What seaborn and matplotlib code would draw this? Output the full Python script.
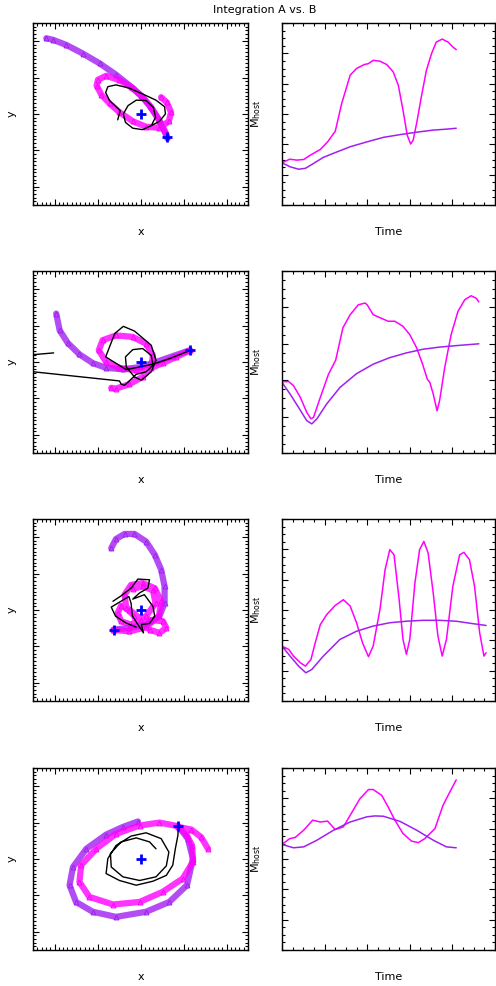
import numpy as np
import pandas as pd
import matplotlib
matplotlib.use("Agg")
import matplotlib.pyplot as plt
import seaborn as sns
from matplotlib.ticker import MultipleLocator

# colours
PURPLE = "#A020F0"
MAGENTA = "#FF00FF"
BLUE = "#0000FF"

# -----------------------------
# Orbit data (x, y) for the left panels
# -----------------------------
orbit_a_1 = [(0.62, -0.64), (0.44, -0.18), (0.21, 0.23), (0.02, 0.50), (-0.22, 0.75),
             (-0.57, 1.08), (-0.95, 1.39), (-1.34, 1.66), (-1.73, 1.90), (-2.04, 2.04), (-2.19, 2.08)]
orbit_b_1 = [(0.62, -0.64), (0.60, -0.55), (0.44, -0.18), (0.25, 0.18), (0.05, 0.46), (-0.18, 0.71),
             (-0.49, 0.93), (-0.80, 1.05), (-0.99, 0.94), (-1.02, 0.78), (-0.91, 0.53), (-0.72, 0.29),
             (-0.49, 0.05), (-0.18, -0.20), (0.13, -0.35), (0.44, -0.38), (0.66, -0.20), (0.71, 0.05),
             (0.61, 0.32), (0.48, 0.46)]
orbit_n_1 = [(-0.53, -0.16), (-0.47, 0.09), (-0.72, 0.37), (-0.81, 0.59), (-0.76, 0.75), (-0.57, 0.80),
             (-0.26, 0.71), (0.05, 0.55), (0.36, 0.38), (0.56, 0.20), (0.58, 0.00), (0.44, -0.20),
             (0.25, -0.32), (0.05, -0.43), (-0.18, -0.39), (-0.35, -0.23), (-0.40, 0.00), (-0.29, 0.23),
             (-0.10, 0.38), (0.13, 0.37), (0.30, 0.18), (0.35, -0.09), (0.25, -0.32)]

orbit_a_2 = [(1.14, 0.32), (0.75, 0.16), (0.36, 0.00), (-0.02, -0.14), (-0.41, -0.20), (-0.80, -0.16),
             (-1.11, -0.03), (-1.42, 0.21), (-1.69, 0.52), (-1.88, 0.87), (-1.96, 1.33)]
orbit_b_2 = [(1.16, 0.32), (0.83, 0.14), (0.52, -0.03), (0.25, -0.16), (-0.10, -0.23), (-0.49, -0.16),
             (-0.80, 0.00), (-0.97, 0.32), (-0.88, 0.60), (-0.57, 0.73), (-0.18, 0.69), (0.13, 0.50),
             (0.29, 0.18), (0.25, -0.14), (0.05, -0.41), (-0.26, -0.61), (-0.57, -0.73), (-0.68, -0.71)]
orbit_n_2 = [(1.16, 0.32), (0.67, 0.09), (0.29, -0.06), (-0.33, -0.21), (-0.81, 0.14), (-0.60, 0.78),
             (-0.40, 0.98), (-0.14, 0.85), (0.25, 0.46), (0.36, 0.05), (0.25, -0.27), (0.02, -0.50),
             (-0.14, -0.41), (-0.33, -0.14), (-0.35, 0.14), (-0.18, 0.34), (0.05, 0.37), (0.25, 0.18),
             (0.29, -0.09), (0.13, -0.27), (-0.10, -0.34), (-0.37, -0.64), (-0.45, -0.61), (-0.49, -0.52),
             (-3.20, -0.18), (-3.20, 0.13), (-2.02, 0.25)]

orbit_a_3 = [(-0.62, -0.54), (-0.26, -0.49), (0.13, -0.40), (0.44, -0.17), (0.56, 0.19), (0.56, 0.65),
             (0.48, 1.11), (0.33, 1.52), (0.13, 1.88), (-0.14, 2.09), (-0.37, 2.09), (-0.57, 1.95), (-0.68, 1.70)]
orbit_b_3 = [(-0.63, -0.54), (-0.26, -0.59), (0.13, -0.47), (0.43, -0.16), (0.48, 0.24), (0.33, 0.60),
             (0.05, 0.74), (-0.22, 0.69), (-0.37, 0.42), (-0.33, 0.05), (-0.14, -0.17), (0.21, -0.27),
             (0.52, -0.31), (0.60, -0.49), (0.44, -0.63), (0.21, -0.54), (0.02, -0.27), (-0.26, 0.01),
             (-0.45, 0.12), (-0.53, -0.08), (-0.45, -0.31), (-0.22, -0.40), (0.13, -0.17), (0.35, 0.19),
             (0.29, 0.54), (0.05, 0.65), (-0.18, 0.58)]
orbit_n_3 = [(-0.64, 0.24), (-0.45, 0.39), (-0.22, 0.60), (-0.06, 0.85), (0.21, 0.83), (0.17, 0.60),
             (-0.02, 0.47), (-0.18, 0.30), (0.09, 0.42), (0.29, 0.10), (0.33, -0.17), (0.21, -0.37),
             (0.02, -0.40), (0.07, -0.63), (-0.06, -0.40), (-0.19, -0.16), (-0.22, 0.19), (-0.27, 0.37),
             (-0.68, 0.08), (-0.58, -0.17), (-0.33, -0.36), (-0.10, -0.47)]

orbit_a_4 = [(0.88, 0.90), (1.10, 0.56), (1.22, 0.01), (1.08, -0.72), (0.67, -1.18), (0.13, -1.45),
             (-0.57, -1.59), (-1.11, -1.45), (-1.50, -1.18), (-1.65, -0.72), (-1.57, -0.22), (-1.26, 0.28),
             (-0.80, 0.67), (-0.41, 0.88), (-0.06, 1.03)]
orbit_b_4 = [(0.88, 0.90), (0.44, 1.00), (-0.02, 0.92), (-0.57, 0.69), (-1.03, 0.28), (-1.38, -0.17),
             (-1.42, -0.63), (-1.19, -1.04), (-0.64, -1.25), (-0.02, -1.18), (0.52, -0.90), (0.98, -0.54),
             (1.22, -0.08), (1.20, 0.37), (1.06, 0.69), (0.88, 0.88), (1.18, 0.81), (1.41, 0.60), (1.57, 0.28)]
orbit_n_4 = [(0.88, 0.90), (0.87, 0.65), (0.81, 0.28), (0.75, -0.17), (0.60, -0.45), (0.29, -0.61),
             (-0.10, -0.72), (-0.49, -0.59), (-0.80, -0.40), (-0.76, 0.01), (-0.57, 0.37), (-0.22, 0.63),
             (0.13, 0.72), (0.48, 0.56), (0.66, 0.19), (0.60, -0.19), (0.36, -0.49), (-0.02, -0.59),
             (-0.41, -0.49), (-0.68, -0.22), (-0.70, 0.15), (-0.45, 0.47), (-0.10, 0.58), (0.21, 0.47), (0.36, 0.28)]

# start points (second blue cross), host centre is at (0, 0)
start_x = [0.62, 1.14, -0.62, 0.88]
start_y = [-0.64, 0.32, -0.54, 0.90]

# -----------------------------
# Host mass vs time for the right panels
# -----------------------------
mass_b_1 = [(0, 1.39), (0.18, 1.51), (0.35, 1.48), (0.51, 1.50), (0.66, 1.64), (0.90, 1.83), (1.07, 2.08),
            (1.25, 2.43), (1.40, 3.34), (1.60, 4.28), (1.75, 4.50), (1.93, 4.63), (2.03, 4.66), (2.14, 4.77),
            (2.30, 4.74), (2.46, 4.63), (2.61, 4.39), (2.73, 3.95), (2.84, 3.13), (2.94, 2.30), (3.02, 2.01),
            (3.08, 2.14), (3.16, 2.69), (3.27, 3.56), (3.39, 4.44), (3.51, 4.99), (3.62, 5.37), (3.76, 5.47),
            (3.90, 5.37), (4.01, 5.21), (4.09, 5.12)]
mass_a_1 = [(0, 1.39), (0.19, 1.26), (0.39, 1.18), (0.55, 1.21), (0.74, 1.37), (0.97, 1.57), (1.29, 1.75),
            (1.60, 1.92), (1.99, 2.08), (2.38, 2.23), (2.77, 2.32), (3.16, 2.40), (3.55, 2.47), (3.86, 2.50),
            (4.09, 2.53)]

mass_b_2 = [(0, 1.96), (0.16, 1.96), (0.27, 1.85), (0.43, 1.53), (0.58, 1.12), (0.68, 0.94), (0.74, 0.98),
            (0.90, 1.53), (1.09, 2.16), (1.26, 2.55), (1.43, 3.44), (1.60, 3.80), (1.79, 4.07), (1.95, 4.12),
            (2.00, 4.07), (2.14, 3.80), (2.49, 3.62), (2.65, 3.62), (2.84, 3.48), (3.00, 3.25), (3.16, 2.89),
            (3.30, 2.44), (3.41, 2.03), (3.47, 1.94), (3.55, 1.62), (3.64, 1.16), (3.70, 1.44), (3.82, 2.35),
            (3.97, 3.25), (4.13, 3.89), (4.29, 4.21), (4.44, 4.32), (4.56, 4.25), (4.62, 4.15)]
mass_a_2 = [(0, 1.94), (0.19, 1.62), (0.39, 1.25), (0.58, 0.89), (0.70, 0.80), (0.82, 0.94), (1.05, 1.35),
            (1.36, 1.80), (1.75, 2.18), (2.14, 2.44), (2.53, 2.62), (2.92, 2.75), (3.31, 2.85), (3.70, 2.91),
            (4.09, 2.95), (4.62, 3.00)]

mass_b_3 = [(0, 1.81), (0.16, 1.70), (0.27, 1.48), (0.43, 1.26), (0.55, 1.15), (0.68, 1.37), (0.78, 1.92),
            (0.90, 2.52), (1.05, 2.85), (1.25, 3.15), (1.44, 3.34), (1.60, 3.13), (1.75, 2.58), (1.89, 1.92),
            (2.03, 1.46), (2.14, 1.81), (2.30, 3.02), (2.42, 4.33), (2.53, 4.99), (2.63, 4.82), (2.75, 3.34),
            (2.84, 2.03), (2.92, 1.54), (3.00, 2.03), (3.12, 3.89), (3.23, 4.99), (3.33, 5.26), (3.43, 4.88),
            (3.55, 3.56), (3.66, 2.14), (3.76, 1.48), (3.86, 2.03), (4.01, 3.78), (4.17, 4.82), (4.27, 4.90),
            (4.40, 4.66), (4.52, 3.78), (4.64, 2.25), (4.74, 1.48), (4.79, 1.59)]
mass_a_3 = [(0, 1.81), (0.19, 1.48), (0.39, 1.15), (0.56, 0.93), (0.70, 1.04), (0.97, 1.48), (1.36, 2.03),
            (1.75, 2.30), (2.14, 2.47), (2.53, 2.58), (2.92, 2.63), (3.31, 2.66), (3.70, 2.66), (4.09, 2.63),
            (4.48, 2.55), (4.79, 2.49)]

mass_b_4 = [(0, 3.48), (0.18, 3.67), (0.31, 3.71), (0.51, 3.95), (0.72, 4.28), (0.90, 4.22), (1.07, 4.25),
            (1.25, 3.97), (1.44, 4.06), (1.60, 4.44), (1.83, 4.99), (2.03, 5.29), (2.14, 5.29), (2.34, 5.10),
            (2.49, 4.72), (2.65, 4.28), (2.84, 3.84), (3.04, 3.59), (3.20, 3.54), (3.35, 3.67), (3.59, 4.00),
            (3.78, 4.77), (3.94, 5.21), (4.09, 5.61)]
mass_a_4 = [(0, 3.48), (0.27, 3.37), (0.51, 3.40), (0.82, 3.62), (1.21, 3.95), (1.60, 4.22), (1.99, 4.39),
            (2.18, 4.42), (2.38, 4.41), (2.77, 4.24), (3.16, 3.95), (3.55, 3.62), (3.86, 3.40), (4.09, 3.37)]

mass_ymax = [6, 5, 6, 6]

orbits = [(orbit_a_1, orbit_b_1, orbit_n_1), (orbit_a_2, orbit_b_2, orbit_n_2),
          (orbit_a_3, orbit_b_3, orbit_n_3), (orbit_a_4, orbit_b_4, orbit_n_4)]
masses = [(mass_a_1, mass_b_1), (mass_a_2, mass_b_2), (mass_a_3, mass_b_3), (mass_a_4, mass_b_4)]

sns.set_style("ticks")
plt.rcParams['font.family'] = ['DejaVu Sans']
plt.rcParams['axes.linewidth'] = 1.0
plt.rcParams['text.color'] = 'black'
plt.rcParams['axes.labelcolor'] = 'black'

fig = plt.figure(figsize=(4.96, 9.86), dpi=100)


def to_df(pts, cols):
    return pd.DataFrame(pts, columns=cols)


def style_axes(ax, xmin, xmax, ymin, ymax, xmaj, xmin_step, ymaj, ymin_step):
    ax.set_xlim(xmin, xmax)
    ax.set_ylim(ymin, ymax)
    ax.xaxis.set_major_locator(MultipleLocator(xmaj))
    ax.xaxis.set_minor_locator(MultipleLocator(xmin_step))
    ax.yaxis.set_major_locator(MultipleLocator(ymaj))
    ax.yaxis.set_minor_locator(MultipleLocator(ymin_step))
    ax.tick_params(which='both', direction='in', top=True, right=True,
                   labelbottom=False, labelleft=False, color='black', width=0.8)
    ax.tick_params(which='major', length=4.5)
    ax.tick_params(which='minor', length=2.2)
    for s in ax.spines.values():
        s.set_visible(True)
        s.set_color('black')


row_tops = [23, 271, 519, 768]
H = 182

for i in range(4):
    bottom = 1 - (row_tops[i] + H) / 986
    axl = fig.add_axes([33 / 496, bottom, 215 / 496, H / 986])
    axr = fig.add_axes([282 / 496, bottom, 213 / 496, H / 986])

    oa, ob, on = orbits[i]
    da = to_df(oa, ['x', 'y'])
    db = to_df(ob, ['x', 'y'])
    dn = to_df(on, ['x', 'y'])

    # integration A (purple) and B (magenta) drawn as thick triangle bands
    for d, c in [(da, PURPLE), (db, MAGENTA)]:
        sns.lineplot(data=d, x='x', y='y', sort=False, estimator=None, ax=axl,
                     color=c, lw=4.5, alpha=0.8, solid_capstyle='round',
                     solid_joinstyle='round')
        sns.lineplot(data=d, x='x', y='y', sort=False, estimator=None, ax=axl,
                     color=c, lw=0, marker='^', markersize=3.5, markerfacecolor='none',
                     markeredgecolor=c, markeredgewidth=0.7)
    sns.lineplot(data=dn, x='x', y='y', sort=False, estimator=None, ax=axl,
                 color='black', lw=1.0, solid_joinstyle='round')
    sns.scatterplot(x=[0.0, start_x[i]], y=[0.0, start_y[i]], ax=axl, marker='+',
                    s=45, color=BLUE, linewidth=2, zorder=10)

    style_axes(axl, -2.5, 2.5, -2.5, 2.5, 1, 0.1, 1, 0.1)
    axl.set_xlabel('x', fontsize=8)
    axl.set_ylabel('y', fontsize=8)
    axl.xaxis.set_label_coords(0.5, -0.12)
    axl.yaxis.set_label_coords(-0.075, 0.5)

    ma, mb = masses[i]
    sns.lineplot(data=to_df(mb, ['t', 'm']), x='t', y='m', sort=False, estimator=None,
                 ax=axr, color=MAGENTA, lw=1.1, solid_joinstyle='round')
    sns.lineplot(data=to_df(ma, ['t', 'm']), x='t', y='m', sort=False, estimator=None,
                 ax=axr, color=PURPLE, lw=1.1, solid_joinstyle='round')

    style_axes(axr, 0, 5, 0, mass_ymax[i], 1, 0.25, 1, 0.25)
    axr.set_xlabel('Time', fontsize=8)
    axr.set_ylabel(r'M$_{\rm host}$', fontsize=8)
    axr.xaxis.set_label_coords(0.5, -0.12)
    axr.yaxis.set_label_coords(-0.09, 0.5)

fig.text(0.533, 1 - 10 / 986, 'Integration A vs. B', ha='center', va='center', fontsize=8)

fig.savefig('out.png', dpi=100)
